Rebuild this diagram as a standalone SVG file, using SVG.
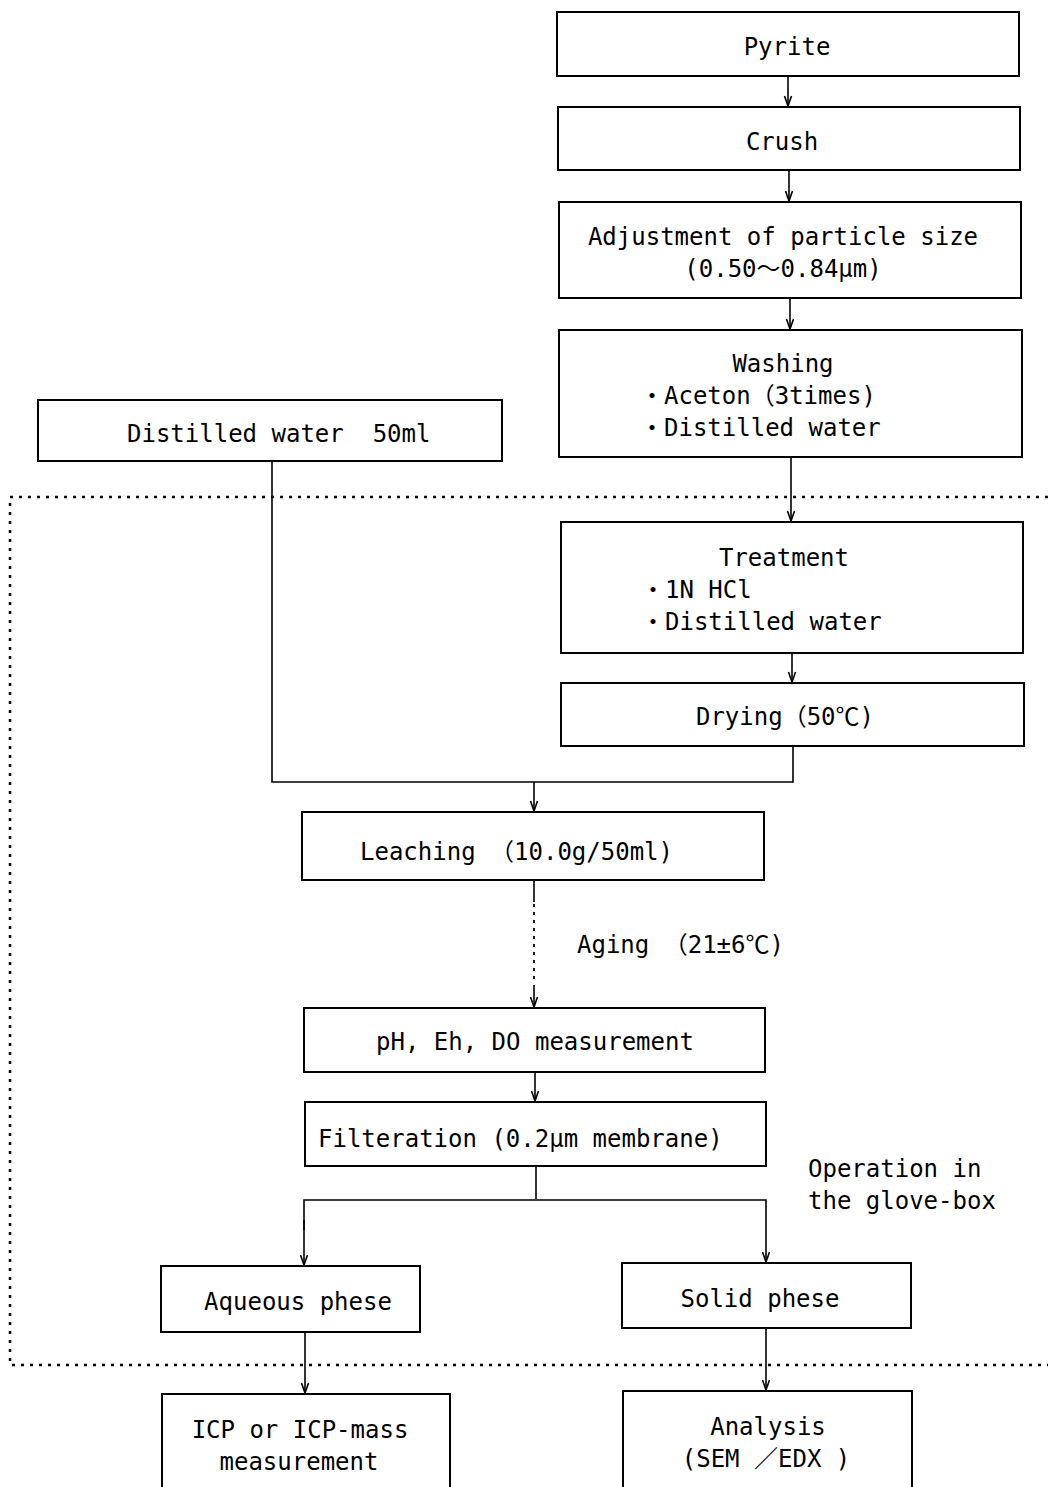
<svg xmlns="http://www.w3.org/2000/svg" width="1048" height="1487" viewBox="0 0 1048 1487">
<style>
.box{fill:#fff;stroke:#000;stroke-width:2}
.t{font-family:"DejaVu Sans Mono","Liberation Mono","Noto Sans CJK JP",monospace;font-size:24px;fill:#000}
.m{text-anchor:middle}
.c{fill:none;stroke:#000;stroke-width:1.6}
.d{fill:none;stroke:#000;stroke-width:2.5;stroke-dasharray:3 6}
</style>
<defs>
<marker id="ah" markerUnits="userSpaceOnUse" markerWidth="12" markerHeight="12" viewBox="-11 -6 12 12" refX="0" refY="0" orient="auto">
<path d="M-10,-3.5 L0,0 L-10,3.5" fill="none" stroke="#000" stroke-width="1.6"/>
</marker>
</defs>
<g id="glovebox">
<path class="d" d="M1048,497 H10 V1365 H1048"/>
</g>
<g id="connectors">
<path class="c" d="M788,76 V106" marker-end="url(#ah)"/>
<path class="c" d="M789,170 V201" marker-end="url(#ah)"/>
<path class="c" d="M790,298 V329" marker-end="url(#ah)"/>
<path class="c" d="M791,457 V521" marker-end="url(#ah)"/>
<path class="c" d="M792,653 V682" marker-end="url(#ah)"/>
<path class="c" d="M272,461 V782 H793 V746"/>
<path class="c" d="M534,782 V811" marker-end="url(#ah)"/>
<path class="c" d="M534,880 V902"/>
<path d="M534,904 V984" fill="none" stroke="#000" stroke-width="1.8" stroke-dasharray="3 5"/>
<path class="c" d="M534,985 V1007" marker-end="url(#ah)"/>
<path class="c" d="M535,1072 V1101" marker-end="url(#ah)"/>
<path class="c" d="M536,1166 V1199"/>
<path class="c" d="M304,1230 V1200 H766 V1262" marker-end="url(#ah)"/>
<path class="c" d="M304,1220 V1265" marker-end="url(#ah)"/>
<path class="c" d="M305,1332 V1393" marker-end="url(#ah)"/>
<path class="c" d="M766,1328 V1390" marker-end="url(#ah)"/>
</g>
<g id="pyrite"><rect class="box" x="557" y="12" width="462" height="64"/><text class="t m" x="787" y="55">Pyrite</text></g>
<g id="crush"><rect class="box" x="558" y="107" width="462" height="63"/><text class="t m" x="782" y="150">Crush</text></g>
<g id="adjust"><rect class="box" x="559" y="202" width="462" height="96"/><text class="t m" x="783" y="245">Adjustment of particle size</text><text class="t m" x="783" y="277">(0.50～0.84μm)</text></g>
<g id="washing"><rect class="box" x="559" y="330" width="463" height="127"/><text class="t m" x="783" y="372">Washing</text><text class="t" x="640" y="404">・Aceton（3times)</text><text class="t" x="640" y="436">・Distilled water</text></g>
<g id="water"><rect class="box" x="38" y="400" width="464" height="61"/><text class="t" x="127" y="442">Distilled water&#160; 50ml</text></g>
<g id="treatment"><rect class="box" x="561" y="522" width="462" height="131"/><text class="t m" x="784" y="566">Treatment</text><text class="t" x="641" y="598">・1N HCl</text><text class="t" x="641" y="630">・Distilled water</text></g>
<g id="drying"><rect class="box" x="561" y="683" width="463" height="63"/><text class="t m" x="785" y="725">Drying（50℃)</text></g>
<g id="leaching"><rect class="box" x="302" y="812" width="462" height="68"/><text class="t" x="360" y="860">Leaching （10.0g/50ml)</text></g>
<g id="aging"><text class="t" x="577" y="953">Aging （21±6℃)</text></g>
<g id="ph"><rect class="box" x="304" y="1008" width="461" height="64"/><text class="t" x="376" y="1050">pH, Eh, DO measurement</text></g>
<g id="filter"><rect class="box" x="305" y="1102" width="461" height="64"/><text class="t" x="318" y="1147">Filteration (0.2μm membrane)</text></g>
<g id="operation"><text class="t" x="808" y="1177">Operation in</text><text class="t" x="808" y="1209">the glove-box</text></g>
<g id="aqueous"><rect class="box" x="161" y="1266" width="259" height="66"/><text class="t m" x="298" y="1310">Aqueous phese</text></g>
<g id="solid"><rect class="box" x="622" y="1263" width="289" height="65"/><text class="t m" x="760" y="1307">Solid phese</text></g>
<g id="icp"><rect class="box" x="162" y="1394" width="288" height="100"/><text class="t m" x="300" y="1438">ICP or ICP-mass</text><text class="t m" x="299" y="1470">measurement</text></g>
<g id="analysis"><rect class="box" x="623" y="1391" width="289" height="103"/><text class="t m" x="768" y="1435">Analysis</text><text class="t m" x="766" y="1467">(SEM ／EDX )</text></g>
</svg>
